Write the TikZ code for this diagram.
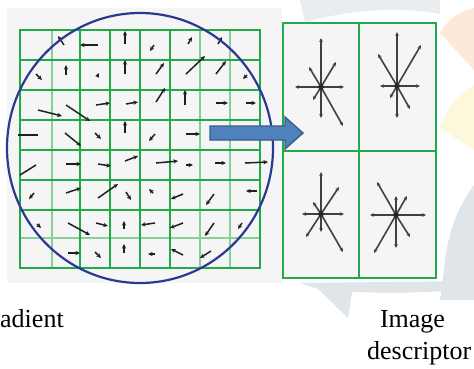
\documentclass[tikz,border=0pt]{standalone}
\usepackage{fontspec}
\setmainfont{Liberation Serif}
\usetikzlibrary{arrows.meta}
\definecolor{gridgreen}{HTML}{22AA48}
\definecolor{gridlight}{HTML}{86D19A}
\definecolor{circblue}{HTML}{2B3990}
\definecolor{panelbg}{HTML}{F5F5F5}
\definecolor{arrfill}{HTML}{4F81BD}
\definecolor{arrdraw}{HTML}{385D8A}
\definecolor{wmgray}{HTML}{DFE5E8}
\definecolor{wmorange}{HTML}{FDE9DA}
\definecolor{wmyellow}{HTML}{FDF8DC}
\begin{document}
\begin{tikzpicture}[x=1pt,y=-1pt,
  gv/.style={line width=1.5pt, draw=black!88, -{Stealth[length=4.6pt,width=4.2pt]}},
  gl/.style={line width=1.5pt, draw=black!88},
  ray/.style={line width=1.6pt, draw=black!75, -{Stealth[length=4pt,width=3.6pt]}},
  gmain/.style={draw=gridgreen, line width=2.2pt},
  glite/.style={draw=gridlight, line width=2.4pt},
  lbl/.style={inner sep=0pt, font=\fontsize{26}{30}\selectfont}]
\useasboundingbox (0,0) rectangle (474,368);
% watermark
\fill[wmorange] (474,8) .. controls (456,12) and (446,22) .. (440,33) -- (474,70) -- cycle;
\fill[wmyellow] (474,85) .. controls (456,95) and (446,110) .. (440,128) -- (474,150) -- cycle;
\fill[wmgray] (474,185) .. controls (452,215) and (446,245) .. (444,270) -- (440,300) -- (474,300) -- cycle;
\fill[wmgray] (300,283) -- (474,281) -- (474,290) -- (400,293) -- (352,292) -- (348,318) -- (318,289) -- cycle;
\fill[wmgray!70] (300,0) -- (440,0) -- (440,14) .. controls (400,6) and (350,10) .. (305,22) -- cycle;
% left panel
\fill[panelbg] (7,8) rectangle (282,283);
\foreach \x in {51.7,200,230} \draw[glite] (\x,30) -- (\x,268);
\draw[glite] (20,238) -- (260,238);
\foreach \x in {80,110,140,170} \draw[gmain] (\x,30) -- (\x,268);
\foreach \y in {60,90,120,150,180,210} \draw[gmain] (20,\y) -- (260,\y);
\draw[gmain, line width=2.6pt] (20,30) rectangle (260,268);
% gradient vectors
\foreach \a/\b/\c/\d in {
 64/45/58/36, 98/45/80/45, 125/44/125/31, 154/45/150/51, 188/44/192/37, 218/44/222/37,
 36/74/42/80, 66/75/66/65, 97/77/99/73, 125/74/125/60, 156/74/164/63, 186/74/205/56, 216/74/226/61, 247/75/243/79,
 38/110/62/116, 66/105/90/121, 96/105/110/103, 126/104/138/102, 156/102/165/88, 185/105/185/90, 216/103/228/103, 246/103/256/103,
 65/133/81/146, 95/133/101/139, 125/133/125/121, 155/134/149/141, 186/134/200/134,
 66/164/81/164, 98/164/111/166, 125/161/138/156, 156/163/178/161, 186/165/193/165, 215/163/226/163, 245/163/268/162,
 34/193/29/199, 66/193/81/188, 98/198/118/184, 126/192/131/200, 153/193/149/189, 183/194/171/199, 214/194/206/205, 257/191/246/191,
 37/224/41/228, 68/223/90/235, 96/223/108/226, 124/229/124/221, 155/223/141/225, 183/223/170/228, 214/223/205/236, 242/223/238/229,
 68/253/80/253, 95/252/101/258, 124/253/124/244, 155/254/148/254, 183/255/171/249, 211/251/200/258}
  \draw[gv] (\a,\b) -- (\c,\d);
\draw[gl] (18,135) -- (38,135);
\draw[gl] (20,175) -- (36,165);
% circle
\draw[circblue, line width=2.2pt] (140,148) ellipse [x radius=133, y radius=135];
% right panel
\fill[panelbg] (283,23) rectangle (436,278);
\draw[gmain] (359,23) -- (359,278);
\draw[gmain] (283,151) -- (436,151);
\draw[gmain, line width=2.6pt] (283,23) rectangle (436,278);
% block arrow
\draw[fill=arrfill, draw=arrdraw, line width=1.4pt]
  (210,126) -- (285,126) -- (285,117) -- (303,133) -- (285,149) -- (285,140) -- (210,140) -- cycle;
% descriptor stars
\coordinate (s1) at (321,87);
\coordinate (s2) at (397,86);
\coordinate (s3) at (321,214);
\coordinate (s4) at (396,215);
\foreach \dx/\dy in {0/-49, 0/31, -26/0, 23/0, -12/-20, 15/-25, 22/39, -8/13}
  \draw[ray] (s1) -- ++(\dx,\dy);
\foreach \dx/\dy in {0/-54, 0/32, -17/0, 23/0, -19/-32, 24/-41, 13/23, -7/12}
  \draw[ray] (s2) -- ++(\dx,\dy);
\foreach \dx/\dy in {0/-42, 0/18, -19/0, 23/0, -8/-12, 18/-27, 22/38, -15/23}
  \draw[ray] (s3) -- ++(\dx,\dy);
\foreach \dx/\dy in {0/-19, 0/33, -26/0, 30/0, -19/-33, 11/-19, 14/22, -22/38}
  \draw[ray] (s4) -- ++(\dx,\dy);
\foreach \s in {s1,s2,s3,s4} \fill[black!85] (\s) circle (2.8);
% labels
\node[lbl, anchor=base west] (lgrad) at (0,327) {adient};
\node[lbl, anchor=base] (limg) at (412.5,327) {Image};
\node[lbl, anchor=base west] (ldesc) at (367,359) {descriptor};
\end{tikzpicture}
\end{document}
